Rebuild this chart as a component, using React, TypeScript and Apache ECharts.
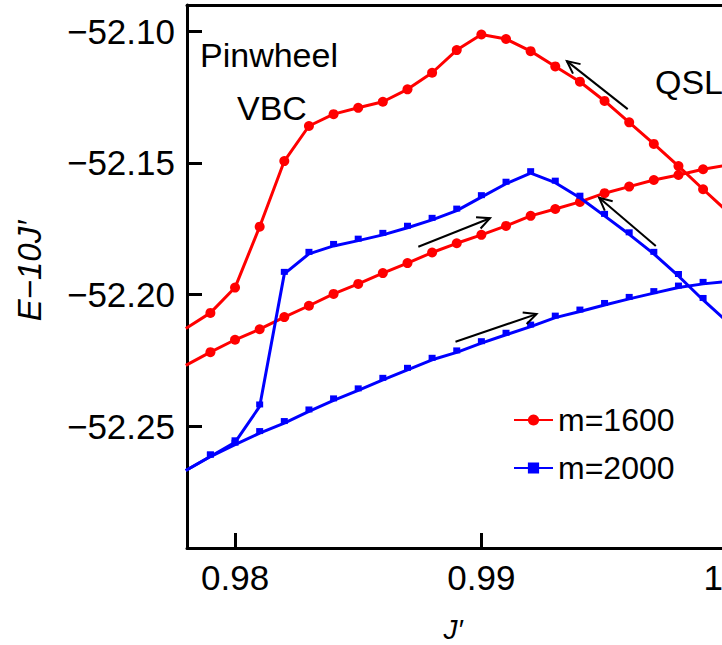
import React, { useEffect, useRef } from "react";
import * as echarts from "echarts";

const jValues = [
  0.978, 0.979, 0.98, 0.981, 0.982, 0.983, 0.984, 0.985, 0.986, 0.987, 0.988, 0.989,
  0.99, 0.991, 0.992, 0.993, 0.994, 0.995, 0.996, 0.997, 0.998, 0.999, 1.0,
];

const red1600Upper = [
  -52.2128, -52.2069, -52.1973, -52.1742, -52.1493, -52.136, -52.1315, -52.1291, -52.1268,
  -52.1221, -52.1158, -52.1072, -52.1013, -52.103, -52.1076, -52.1134, -52.1192, -52.1265,
  -52.1346, -52.1428, -52.1512, -52.16, -52.1686,
];
const red1600Lower = [
  -52.2268, -52.2218, -52.2171, -52.2131, -52.2085, -52.2042, -52.1997, -52.1959, -52.1918,
  -52.188, -52.184, -52.1805, -52.1773, -52.1739, -52.1701, -52.1675, -52.1648, -52.1615,
  -52.159, -52.1565, -52.1546, -52.1524, -52.1508,
];
const blue2000Upper = [
  -52.2667, -52.2614, -52.256, -52.2424, -52.1921, -52.1845, -52.1815, -52.1795, -52.1773,
  -52.1746, -52.1716, -52.1681, -52.163, -52.1579, -52.1539, -52.1575, -52.1632, -52.1701,
  -52.1771, -52.1845, -52.1929, -52.202, -52.2104,
];
const blue2000Lower = [
  -52.2667, -52.2614, -52.2569, -52.2525, -52.2487, -52.2443, -52.2401, -52.2363, -52.2323,
  -52.2285, -52.2247, -52.2219, -52.2184, -52.2152, -52.2121, -52.2087, -52.2064, -52.2039,
  -52.2016, -52.1994, -52.1973, -52.1959, -52.195,
];

// arrows: [xTail, yTail, xTip, yTip] in data coordinates
const arrows = [
  [0.99594, -52.12959, 0.99347, -52.11138],
  [0.98744, -52.18183, 0.99035, -52.17099],
  [0.99708, -52.18156, 0.99478, -52.16323],
  [0.98895, -52.21787, 0.99224, -52.20736],
];

const xTicks = [0.98, 0.99, 1.0];
const yTicks = [-52.25, -52.2, -52.15, -52.1];
const legendNames = ["m=1600", "m=2000"];

const FONT = "'Liberation Sans', Arial, sans-serif";

const pairs = (ys: number[]) => jValues.map((x, i) => [x, ys[i]]);

export default function App() {
  const ref = useRef<HTMLDivElement>(null);
  useEffect(() => {
    if (!ref.current) return;
    const chart = echarts.init(ref.current, null, { renderer: "svg" });
    const redStyle = {
      type: "line" as const,
      name: legendNames[0],
      symbol: "circle",
      symbolSize: 10,
      showSymbol: true,
      color: "#ff0000",
      lineStyle: { color: "#ff0000", width: 3 },
      itemStyle: { color: "#ff0000" },
      z: 3,
    };
    const blueStyle = {
      type: "line" as const,
      name: legendNames[1],
      symbol: "rect",
      symbolSize: [7, 6],
      symbolOffset: [0, -2],
      showSymbol: true,
      color: "#0000ff",
      lineStyle: { color: "#0000ff", width: 3 },
      itemStyle: { color: "#0000ff" },
      z: 4,
    };
    const axisCommon = {
      axisLine: { show: true, onZero: false, lineStyle: { color: "#000", width: 3 } },
      splitLine: { show: false },
    };
    chart.setOption({
      animation: false,
      backgroundColor: "#fff",
      grid: { left: 187, top: 5, width: 590, height: 543 },
      xAxis: [
        {
          type: "value",
          min: 0.97805,
          max: 1.002,
          position: "bottom",
          ...axisCommon,
          axisTick: {
            show: true,
            inside: true,
            length: 15,
            lineStyle: { color: "#000", width: 3 },
            customValues: xTicks,
          },
          axisLabel: {
            show: true,
            customValues: xTicks,
            margin: 12,
            fontSize: 35,
            fontFamily: FONT,
            color: "#000",
            formatter: (v: number) => (Math.abs(v - 1) < 1e-9 ? "1.0" : v.toFixed(2)),
          },
        },
        {
          type: "value",
          min: 0.97805,
          max: 1.002,
          position: "top",
          ...axisCommon,
          axisTick: { show: false },
          axisLabel: { show: false },
        },
      ],
      yAxis: [
        {
          type: "value",
          min: -52.2961,
          max: -52.0901,
          position: "left",
          ...axisCommon,
          axisTick: {
            show: true,
            inside: true,
            length: 15,
            lineStyle: { color: "#000", width: 3 },
            customValues: yTicks,
          },
          axisLabel: {
            show: true,
            customValues: yTicks,
            margin: 12,
            fontSize: 35,
            fontFamily: FONT,
            color: "#000",
            formatter: (v: number) => "\u2212" + Math.abs(v).toFixed(2),
          },
        },
        {
          type: "value",
          min: -52.2961,
          max: -52.0901,
          position: "right",
          ...axisCommon,
          axisTick: { show: false },
          axisLabel: { show: false },
        },
      ],
      legend: {
        data: legendNames,
        orient: "vertical",
        left: 508,
        top: 399,
        itemWidth: 39,
        itemHeight: 14,
        itemGap: 16,
        textStyle: { fontSize: 32, fontFamily: FONT, color: "#000", lineHeight: 32 },
      },
      series: [
        { ...redStyle, data: pairs(red1600Upper) },
        { ...redStyle, data: pairs(red1600Lower) },
        { ...blueStyle, data: pairs(blue2000Upper) },
        { ...blueStyle, data: pairs(blue2000Lower) },
        {
          type: "custom",
          name: "arrows",
          silent: true,
          z: 6,
          encode: { x: [0, 2], y: [1, 3] },
          data: arrows,
          renderItem: (params: any, api: any) => {
            const p1 = api.coord([api.value(0), api.value(1)]);
            const p2 = api.coord([api.value(2), api.value(3)]);
            const ang = Math.atan2(p2[1] - p1[1], p2[0] - p1[0]);
            const L = 14;
            const a = 0.45;
            const w1 = [p2[0] - L * Math.cos(ang - a), p2[1] - L * Math.sin(ang - a)];
            const w2 = [p2[0] - L * Math.cos(ang + a), p2[1] - L * Math.sin(ang + a)];
            return {
              type: "group",
              children: [
                {
                  type: "line",
                  shape: { x1: p1[0], y1: p1[1], x2: p2[0], y2: p2[1] },
                  style: { stroke: "#000", lineWidth: 2 },
                },
                {
                  type: "polyline",
                  shape: { points: [w1, p2, w2] },
                  style: { stroke: "#000", fill: "none", lineWidth: 2 },
                },
              ],
            };
          },
        },
      ],
      graphic: [
        {
          type: "text",
          x: 200,
          y: 55,
          style: { text: "Pinwheel", font: `34px ${FONT}`, fill: "#000", align: "left", verticalAlign: "middle" },
        },
        {
          type: "text",
          x: 237,
          y: 108,
          style: { text: "VBC", font: `34px ${FONT}`, fill: "#000", align: "left", verticalAlign: "middle" },
        },
        {
          type: "text",
          x: 655,
          y: 82,
          style: { text: "QSL", font: `34px ${FONT}`, fill: "#000", align: "left", verticalAlign: "middle" },
        },
        {
          type: "text",
          x: 29,
          y: 271,
          rotation: Math.PI / 2,
          style: {
            text: "E\u221210J\u2032",
            font: `italic 33px ${FONT}`,
            fill: "#000",
            align: "center",
            verticalAlign: "middle",
          },
        },
        {
          type: "text",
          x: 453,
          y: 629,
          style: {
            text: "J\u2032",
            font: `italic 28px ${FONT}`,
            fill: "#000",
            align: "center",
            verticalAlign: "middle",
          },
        },
      ],
    });
    return () => chart.dispose();
  }, []);
  return (
    <div
      style={{
        position: "fixed",
        left: 0,
        top: 0,
        width: 722,
        height: 645,
        overflow: "hidden",
        background: "#fff",
      }}
    >
      <div ref={ref} style={{ width: 900, height: 645 }} />
    </div>
  );
}
